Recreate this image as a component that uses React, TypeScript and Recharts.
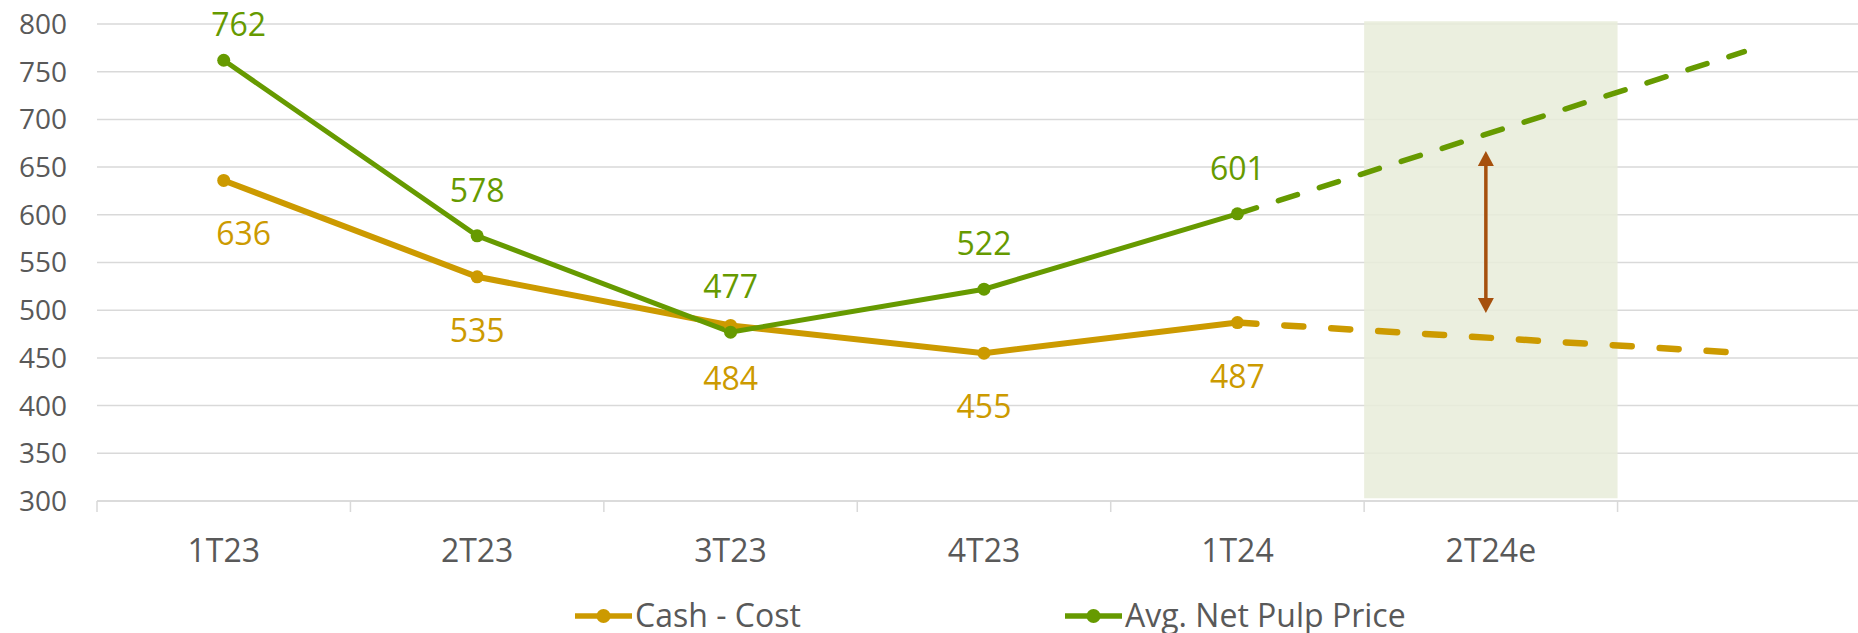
import {
  LineChart,
  Line,
  XAxis,
  YAxis,
  CartesianGrid,
  Legend,
  LabelList,
  ReferenceArea,
  ReferenceLine,
} from "recharts";

const periods = ["1T23", "2T23", "3T23", "4T23", "1T24", "2T24e", ""];
const cashCost = [636, 535, 484, 455, 487, null, null];
const pulpPrice = [762, 578, 477, 522, 601, null, null];
const cashCostEst = [null, null, null, null, 487, null, 455];
const pulpPriceEst = [null, null, null, null, 601, null, 771];
const yTicks = [300, 350, 400, 450, 500, 550, 600, 650, 700, 750, 800];
const bandRange = [303, 803];
const gapArrow = [497, 667];

const data = periods.map((period, i) => ({
  period,
  cashCost: cashCost[i],
  pulpPrice: pulpPrice[i],
  cashCostEst: cashCostEst[i],
  pulpPriceEst: pulpPriceEst[i],
}));

const GOLD = "#CC9A00";
const GREEN = "#669A00";
const TEXT = "#595959";
const GRID = "#D9D9D9";
const FONT = "'Open Sans', sans-serif";

const CHART_W = 1874;
const CHART_H = 633;
const MARGIN = { top: 24, right: 3, left: 0, bottom: 72 };
const Y_W = 97;
const BAND = (CHART_W - MARGIN.left - MARGIN.right - Y_W) / periods.length;

// tick y arrives 6px below the axis line (tickSize 6, tickMargin 0)
const XTick = ({ x, y, payload }: any) => (
  <g>
    <line x1={x - BAND / 2} y1={y - 6} x2={x - BAND / 2} y2={y + 5} stroke={GRID} strokeWidth={1.5} />
    <text x={x} y={y + 55} textAnchor="middle" fontSize={32} fill={TEXT} fontFamily={FONT}>
      {payload.value}
    </text>
  </g>
);

const pointOf = (props: any) => ({
  x: props.x ?? props.viewBox?.x,
  y: props.y ?? props.viewBox?.y,
});

const GreenLabel = (props: any) => {
  if (props.value == null) return null;
  const { x, y } = pointOf(props);
  const dx = props.index === 0 ? 15 : 0;
  return (
    <text x={x + dx} y={Math.max(y - 34, 36)} textAnchor="middle" fontSize={32} fill={GREEN} fontFamily={FONT}>
      {props.value}
    </text>
  );
};

const GoldLabel = (props: any) => {
  if (props.value == null) return null;
  const { x, y } = pointOf(props);
  const dx = props.index === 0 ? 20 : 0;
  return (
    <text x={x + dx} y={y + 65} textAnchor="middle" fontSize={32} fill={GOLD} fontFamily={FONT}>
      {props.value}
    </text>
  );
};

const Arrow = (props: any) => {
  const { x1, y1, y2 } = props;
  const x = x1 - 5;
  const top = Math.min(y1, y2);
  const bottom = Math.max(y1, y2);
  const head = 15;
  const half = 8;
  const color = "#A6500D";
  return (
    <g>
      <line x1={x} y1={top + head} x2={x} y2={bottom - head} stroke={color} strokeWidth={3.5} />
      <polygon points={`${x},${top} ${x - half},${top + head} ${x + half},${top + head}`} fill={color} />
      <polygon points={`${x},${bottom} ${x - half},${bottom - head} ${x + half},${bottom - head}`} fill={color} />
    </g>
  );
};

const LegendIcon = ({ color }: { color: string }) => (
  <svg width={57} height={16} style={{ position: "absolute", left: 0, top: 0 }}>
    <line x1={0} y1={8} x2={57} y2={8} stroke={color} strokeWidth={5.5} strokeLinecap="round" />
    <circle cx={28.5} cy={8} r={7} fill={color} />
  </svg>
);

const legendItems = [
  { label: "Cash - Cost", color: GOLD, left: 575 },
  { label: "Avg. Net Pulp Price", color: GREEN, left: 1065 },
];

const CustomLegend = () => (
  <div style={{ position: "relative", width: 1858, height: 633 }}>
    {legendItems.map((item) => (
      <div key={item.label} style={{ position: "absolute", left: item.left, top: 608 }}>
        <LegendIcon color={item.color} />
        <span
          style={{
            position: "absolute",
            left: 60,
            top: -15,
            fontSize: 32,
            lineHeight: "normal",
            color: TEXT,
            fontFamily: FONT,
            whiteSpace: "nowrap",
          }}
        >
          {item.label}
        </span>
      </div>
    ))}
  </div>
);

export default function App() {
  return (
    <div
      style={{
        position: "absolute",
        left: 0,
        top: 0,
        width: 1858,
        height: CHART_H,
        overflow: "hidden",
        background: "#fff",
        fontFamily: FONT,
      }}
    >
      <LineChart width={CHART_W} height={CHART_H} data={data} margin={MARGIN}>
        <ReferenceArea
          x1="2T24e"
          x2="2T24e"
          y1={bandRange[0]}
          y2={bandRange[1]}
          fill="#E7ECD9"
          fillOpacity={0.85}
          stroke="none"
          ifOverflow="visible"
        />
        <CartesianGrid vertical={false} stroke={GRID} strokeWidth={1.5} />
        <XAxis
          dataKey="period"
          scale="band"
          height={60}
          tickSize={6}
          tickMargin={0}
          tickLine={false}
          axisLine={{ stroke: GRID, strokeWidth: 1.5 }}
          tick={<XTick />}
          interval={0}
        />
        <YAxis
          width={Y_W}
          domain={[300, 800]}
          ticks={yTicks}
          axisLine={false}
          tickLine={false}
          tickSize={6}
          tickMargin={24}
          tick={{ fontSize: 28, fill: TEXT, fontFamily: FONT }}
        />
        <Legend
          verticalAlign="middle"
          content={<CustomLegend />}
          wrapperStyle={{ top: 0, left: 0, width: 1858, height: 633, pointerEvents: "none" }}
        />
        <Line
          dataKey="cashCostEst"
          stroke={GOLD}
          strokeWidth={6.5}
          strokeDasharray="19 28"
          strokeLinecap="round"
          dot={false}
          activeDot={false}
          connectNulls
          isAnimationActive={false}
        />
        <Line
          dataKey="cashCost"
          stroke={GOLD}
          strokeWidth={6}
          dot={{ r: 6.5, fill: GOLD, stroke: GOLD, strokeWidth: 0 }}
          activeDot={false}
          isAnimationActive={false}
        >
          <LabelList dataKey="cashCost" content={<GoldLabel />} />
        </Line>
        <Line
          dataKey="pulpPriceEst"
          stroke={GREEN}
          strokeWidth={5.5}
          strokeDasharray="20 23"
          strokeLinecap="round"
          dot={false}
          activeDot={false}
          connectNulls
          isAnimationActive={false}
        />
        <Line
          dataKey="pulpPrice"
          stroke={GREEN}
          strokeWidth={5}
          dot={{ r: 6.5, fill: GREEN, stroke: GREEN, strokeWidth: 0 }}
          activeDot={false}
          isAnimationActive={false}
        >
          <LabelList dataKey="pulpPrice" content={<GreenLabel />} />
        </Line>
        <ReferenceLine
          segment={[
            { x: "2T24e", y: gapArrow[1] },
            { x: "2T24e", y: gapArrow[0] },
          ]}
          shape={<Arrow />}
          ifOverflow="visible"
        />
      </LineChart>
    </div>
  );
}
